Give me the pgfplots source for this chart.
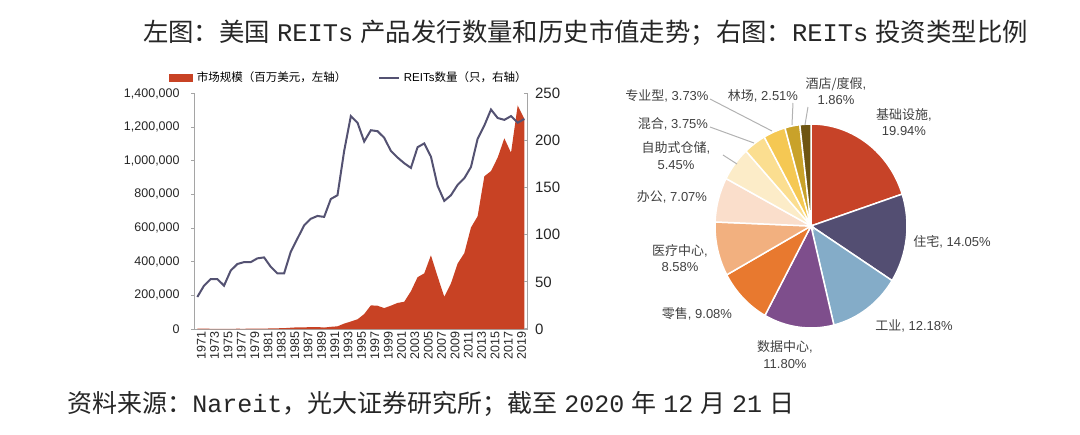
\documentclass[border=0pt]{standalone}
\usepackage{fontspec}
\usepackage{pgfplots}
\usepackage{pgfplotstable}
\pgfplotsset{compat=1.18}
\setmainfont{Liberation Sans}
\newfontfamily\cjk{Noto Sans CJK SC}
\newfontfamily\mono{Liberation Mono}

\definecolor{areared}{RGB}{200,66,36}
\definecolor{linecol}{RGB}{84,82,114}
\definecolor{axgray}{RGB}{165,165,165}
\definecolor{pA}{RGB}{199,67,40}
\definecolor{pB}{RGB}{83,78,114}
\definecolor{pC}{RGB}{132,172,200}
\definecolor{pD}{RGB}{126,78,140}
\definecolor{pE}{RGB}{232,121,47}
\definecolor{pF}{RGB}{242,176,127}
\definecolor{pG}{RGB}{250,222,203}
\definecolor{pH}{RGB}{252,236,200}
\definecolor{pI}{RGB}{251,222,144}
\definecolor{pJ}{RGB}{245,200,83}
\definecolor{pK}{RGB}{201,162,42}
\definecolor{pL}{RGB}{110,85,18}

\pgfplotstableread{
year cap reits
1971 1494 34
1972 1881 46
1973 1394 53
1974 712 53
1975 900 46
1976 1308 62
1977 1528 69
1978 1412 71
1979 1754 71
1980 2299 75
1981 2439 76
1982 3299 66
1983 4257 59
1984 5085 59
1985 7674 82
1986 9924 96
1987 9702 110
1988 11435 117
1989 11662 120
1990 8737 119
1991 12968 138
1992 15912 142
1993 32159 189
1994 44306 226
1995 57541 219
1996 88776 199
1997 140534 211
1998 138301 210
1999 124262 203
2000 138715 189
2001 154899 182
2002 161937 176
2003 224212 171
2004 307895 193
2005 330691 197
2006 438071 183
2007 312009 152
2008 191651 136
2009 271199 142
2010 389295 153
2011 450501 160
2012 603415 172
2013 670334 202
2014 907426 216
2015 938852 233
2016 1018730 224
2017 1133698 222
2018 1047641 226
2019 1328806 219
2020 1249184 223
}\reitdata

\newcommand\slice[3]{\fill[#3, draw=white, line width=0.75bp] (axis cs:0,0) -- (axis cs:{cos(#1)},{sin(#1)}) arc[start angle=#1, end angle=#2, x radius=48bp, y radius=51bp] -- cycle;}
\newcommand\pief{\fontsize{6.5bp}{8.25bp}\selectfont}

\begin{document}
\begin{tikzpicture}
\path[use as bounding box] (0bp,0bp) rectangle (540bp,217.5bp);

% ---------- left chart: market cap (area) ----------
\begin{axis}[
  at={(97bp,53bp)}, anchor=south west, scale only axis,
  width=166.85bp, height=117.75bp,
  xmin=1970.5, xmax=2020.5, ymin=0, ymax=1400000,
  axis x line*=bottom, axis y line*=left,
  axis line style={axgray, line width=0.5bp},
  clip=false,
  xtick={1971,1973,...,2019},
  x tick label style={rotate=90, anchor=east, font=\fontsize{6.25bp}{7bp}\selectfont, inner sep=1bp, yshift=-2bp, text=black!85, /pgf/number format/1000 sep={}},
  ytick={0,200000,...,1400000}, scaled y ticks=false,
  y tick label style={font=\fontsize{6.25bp}{7bp}\selectfont, text=black!85, /pgf/number format/fixed, /pgf/number format/1000 sep={,}, inner sep=1bp, xshift=-6bp},
  /pgf/number format/assume math mode=true,
  major tick length=0pt,
]
\addplot[fill=areared, draw=none] table[x=year,y=cap]{\reitdata} \closedcycle;
\pgfplotsinvokeforeach{0,200000,400000,600000,800000,1000000,1200000,1400000}{
  \draw[axgray, line width=0.5bp] (axis cs:1970.5,#1) -- ++(-1.5bp,0pt);
}
\end{axis}

% ---------- left chart: number of REITs (line) ----------
\begin{axis}[
  at={(97bp,53bp)}, anchor=south west, scale only axis,
  width=166.85bp, height=117.75bp,
  xmin=1970.5, xmax=2020.5, ymin=0, ymax=250,
  axis x line=none, axis y line*=right,
  axis line style={axgray, line width=0.5bp},
  ytick={0,50,...,250},
  y tick label style={font=\fontsize{7.5bp}{8bp}\selectfont, text=black!85, inner sep=1bp, xshift=2.5bp},
  /pgf/number format/assume math mode=true,
  tick align=inside, major tick length=2bp,
  tick style={axgray, line width=0.5bp},
  legend style={font=\fontsize{5.75bp}{6.5bp}\selectfont, draw=none, fill=none,
    at={(0.467,1.066)}, anchor=center, inner sep=0pt,
    /tikz/every even column/.append style={column sep=14bp}},
  legend columns=2, legend cell align=left,
]
\addlegendimage{legend image code/.code={\fill[areared] (0bp,-1.6bp) rectangle (11.5bp,1.6bp);}}
\addlegendentry{\cjk 市场规模（百万美元，左轴）}
\addplot[linecol, line width=1bp, legend image code/.code={\draw[linecol,line width=0.8bp] (0bp,0bp) -- (10bp,0bp);}] table[x=year,y=reits]{\reitdata};
\addlegendentry{REITs{\cjk 数量（只，右轴）}}
\end{axis}

% ---------- right chart: pie ----------
\pgfmathsetmacro\aA{90}
\pgfmathsetmacro\aB{\aA-3.6*19.94}
\pgfmathsetmacro\aC{\aB-3.6*14.05}
\pgfmathsetmacro\aD{\aC-3.6*12.18}
\pgfmathsetmacro\aE{\aD-3.6*11.80}
\pgfmathsetmacro\aF{\aE-3.6*9.08}
\pgfmathsetmacro\aG{\aF-3.6*8.58}
\pgfmathsetmacro\aH{\aG-3.6*7.07}
\pgfmathsetmacro\aI{\aH-3.6*5.45}
\pgfmathsetmacro\aJ{\aI-3.6*3.75}
\pgfmathsetmacro\aK{\aJ-3.6*3.73}
\pgfmathsetmacro\aL{\aK-3.6*2.51}
\pgfmathsetmacro\aM{\aL-3.6*1.86}
\begin{axis}[hide axis, at={(405.5bp,104.5bp)}, anchor=center, scale only axis,
  width=96bp, height=102bp, xmin=-1, xmax=1, ymin=-1, ymax=1, clip=false]
\slice{\aA}{\aB}{pA}
\slice{\aB}{\aC}{pB}
\slice{\aC}{\aD}{pC}
\slice{\aD}{\aE}{pD}
\slice{\aE}{\aF}{pE}
\slice{\aF}{\aG}{pF}
\slice{\aG}{\aH}{pG}
\slice{\aH}{\aI}{pH}
\slice{\aI}{\aJ}{pI}
\slice{\aJ}{\aK}{pJ}
\slice{\aK}{\aL}{pK}
\slice{\aL}{\aM}{pL}
\end{axis}

\begin{scope}[x=0.5bp,y=0.5bp]
% leader lines
\begin{scope}[draw=black!30, line width=0.5bp]
\draw (710,336) -- (772,304);
\draw (710,308) -- (754,292);
\draw (723,280) -- (737,271);
\draw (793,332) -- (792,310);
\draw (808,328) -- (805,310);
\end{scope}

% pie labels
\begin{scope}[every node/.style={font=\pief, text=black!75, inner sep=0pt, align=center}]
\node at (904,313) {{\cjk 基础设施}, \\ 19.94\%};
\node at (952,193) {{\cjk 住宅}, 14.05\%};
\node at (914,109) {{\cjk 工业}, 12.18\%};
\node at (785,80.5) {{\cjk 数据中心}, \\ 11.80\%};
\node at (697,121) {{\cjk 零售}, 9.08\%};
\node at (680,177) {{\cjk 医疗中心}, \\ 8.58\%};
\node at (672,238) {{\cjk 办公}, 7.07\%};
\node at (676,279.5) {{\cjk 自助式仓储}, \\ 5.45\%};
\node at (673,311) {{\cjk 混合}, 3.75\%};
\node at (667,339) {{\cjk 专业型}, 3.73\%};
\node at (763,339) {{\cjk 林场}, 2.51\%};
\node at (836,344) {{\cjk 酒店/度假}, \\ 1.86\%};
\end{scope}

% title and source
\node[font=\fontsize{12.7bp}{14bp}\selectfont, inner sep=0pt, text=black!85] at (585.5,402)
  {{\cjk 左图：美国} {\mono REITs} {\cjk 产品发行数量和历史市值走势；右图：}{\mono REITs} {\cjk 投资类型比例}};
\node[font=\fontsize{12.5bp}{14bp}\selectfont, inner sep=0pt, anchor=west, text=black!85] at (67,31)
  {{\cjk 资料来源：}{\mono Nareit}{\cjk ，光大证券研究所；截至} {\mono 2020} {\cjk 年} {\mono 12} {\cjk 月} {\mono 21} {\cjk 日}};
\end{scope}
\end{tikzpicture}
\end{document}
